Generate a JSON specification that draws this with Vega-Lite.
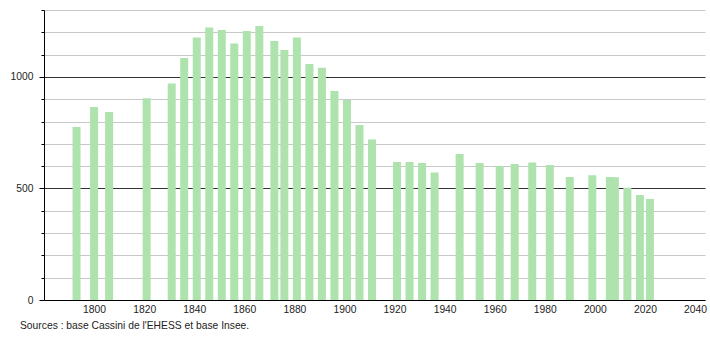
{
  "$schema": "https://vega.github.io/schema/vega-lite/v6.json",
  "autosize": "none",
  "padding": {"left": 44, "top": 10, "right": 5, "bottom": 40},
  "width": 661,
  "height": 290,
  "background": "white",
  "config": {
    "view": {"stroke": null},
    "font": "Liberation Sans",
    "axis": {"labelFont": "Liberation Sans", "labelFontSize": 10.3, "labelColor": "#222"}
  },
  "title": {
    "text": "Sources : base Cassini de l'EHESS et base Insee.",
    "orient": "bottom",
    "anchor": "start",
    "frame": "group",
    "dx": -24,
    "offset": 7,
    "fontSize": 10.3,
    "fontWeight": "normal",
    "color": "#222",
    "font": "Liberation Sans"
  },
  "data": {
    "values": [
      {"annee": 1793, "population": 775},
      {"annee": 1800, "population": 865},
      {"annee": 1806, "population": 843},
      {"annee": 1821, "population": 904},
      {"annee": 1831, "population": 971},
      {"annee": 1836, "population": 1085},
      {"annee": 1841, "population": 1177},
      {"annee": 1846, "population": 1222},
      {"annee": 1851, "population": 1210},
      {"annee": 1856, "population": 1150},
      {"annee": 1861, "population": 1206},
      {"annee": 1866, "population": 1228},
      {"annee": 1872, "population": 1161},
      {"annee": 1876, "population": 1121},
      {"annee": 1881, "population": 1177},
      {"annee": 1886, "population": 1058},
      {"annee": 1891, "population": 1041},
      {"annee": 1896, "population": 937},
      {"annee": 1901, "population": 896},
      {"annee": 1906, "population": 784},
      {"annee": 1911, "population": 720},
      {"annee": 1921, "population": 619},
      {"annee": 1926, "population": 619},
      {"annee": 1931, "population": 614},
      {"annee": 1936, "population": 571},
      {"annee": 1946, "population": 654},
      {"annee": 1954, "population": 614},
      {"annee": 1962, "population": 601},
      {"annee": 1968, "population": 610},
      {"annee": 1975, "population": 616},
      {"annee": 1982, "population": 605},
      {"annee": 1990, "population": 551},
      {"annee": 1999, "population": 559},
      {"annee": 2006, "population": 551},
      {"annee": 2008, "population": 550},
      {"annee": 2013, "population": 503},
      {"annee": 2018, "population": 471},
      {"annee": 2022, "population": 453}
    ]
  },
  "mark": {"type": "bar", "size": 8, "color": "#aee3ae"},
  "encoding": {
    "x": {
      "field": "annee",
      "type": "quantitative",
      "scale": {"domain": [1780, 2044], "nice": false, "zero": false, "padding": 0},
      "axis": {
        "title": null,
        "values": [1800, 1820, 1840, 1860, 1880, 1900, 1920, 1940, 1960, 1980, 2000, 2020, 2040],
        "format": "d",
        "ticks": false,
        "labelPadding": 4,
        "grid": false,
        "domainColor": "#000",
        "labelFlush": false
      }
    },
    "y": {
      "field": "population",
      "type": "quantitative",
      "scale": {"domain": [0, 1300], "nice": false, "padding": 0},
      "axis": {
        "title": null,
        "values": [0, 100, 200, 300, 400, 500, 600, 700, 800, 900, 1000, 1100, 1200, 1300],
        "labelExpr": "datum.value % 500 == 0 ? datum.value : ''",
        "domainColor": "#000",
        "tickColor": "#000",
        "tickSize": {"condition": {"test": "datum.value % 500 == 0", "value": 5}, "value": 3},
        "labelPadding": 6,
        "grid": true,
        "gridColor": {"condition": {"test": "datum.value % 500 == 0", "value": "#333"}, "value": "#c8c8c8"},
        "gridWidth": 1,
        "labelFlush": false
      }
    }
  }
}
